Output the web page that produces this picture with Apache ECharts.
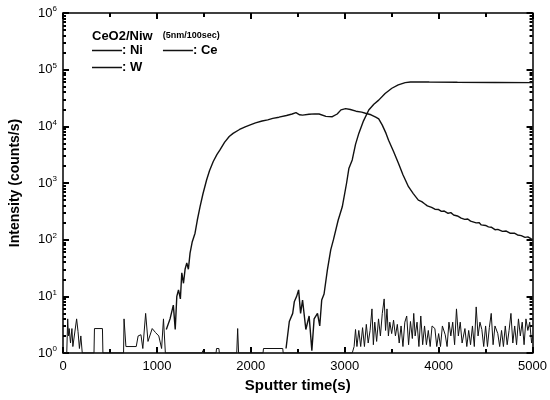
<!DOCTYPE html>
<html>
<head>
<meta charset="utf-8">
<script src="https://cdn.jsdelivr.net/npm/echarts@6/dist/echarts.min.js"></script>
<style>
  html, body { margin: 0; padding: 0; background: #fff; }
  #chart { width: 550px; height: 400px; }
</style>
</head>
<body>
<div id="chart"></div>
<script>
// sputter depth profile, [time (s), counts/s]
const ceData = [
  [1100, 2.6], [1140, 4], [1175, 7], [1195, 2.6], [1212, 10], [1230, 13], [1250, 9],
  [1265, 26], [1283, 17], [1300, 30], [1318, 39], [1335, 30], [1353, 58], [1375, 90],
  [1406, 130], [1430, 220], [1459, 380], [1490, 640], [1529, 1130], [1560, 1650],
  [1600, 2400], [1640, 3200], [1670, 3800], [1720, 5200], [1770, 6600], [1811, 7500],
  [1880, 8800], [1940, 9800], [1987, 10500], [2050, 11500], [2120, 12400], [2180, 13000],
  [2234, 13800], [2300, 14500], [2380, 15500], [2440, 16500], [2481, 17400], [2520, 16000],
  [2551, 15800], [2620, 16300], [2680, 16600], [2727, 16500], [2800, 15000], [2868, 14800],
  [2920, 16500], [2960, 19500], [3010, 20500], [3060, 19800], [3120, 18500], [3180, 17800],
  [3221, 17000], [3280, 16000], [3330, 14500], [3362, 13500], [3400, 10500], [3440, 7500],
  [3467, 5700], [3520, 3600], [3573, 2200], [3620, 1400], [3679, 860], [3730, 650],
  [3784, 500], [3820, 470], [3850, 430], [3880, 395], [3925, 370], [3960, 345], [4000, 340],
  [4030, 315], [4060, 320], [4101, 292], [4130, 300], [4160, 272], [4200, 262], [4240, 240],
  [4278, 228], [4310, 232], [4340, 212], [4400, 198], [4430, 200], [4454, 182], [4500, 178],
  [4530, 168], [4560, 166], [4600, 150], [4630, 152], [4680, 140], [4720, 142], [4760, 130],
  [4806, 130], [4840, 121], [4880, 118], [4920, 110], [4950, 112], [4982, 104], [5000, 100]
];
const niData = [
  [2375, 1.2], [2410, 3.6], [2446, 5], [2463, 8], [2488, 10], [2509, 13], [2530, 5],
  [2551, 8.6], [2565, 8], [2586, 2.6], [2600, 2.6], [2621, 4.5], [2650, 1.1], [2674, 4],
  [2710, 5], [2734, 3], [2755, 8.6], [2780, 11], [2815, 29], [2851, 66], [2880, 100],
  [2930, 220], [2974, 380], [3020, 1000], [3044, 1800], [3080, 2550], [3115, 4800],
  [3150, 7500], [3200, 12500], [3256, 19400], [3310, 24500], [3362, 29000], [3430, 38000],
  [3502, 47000], [3570, 54000], [3644, 59000], [3700, 60500], [3784, 61000], [3900, 60500],
  [4200, 60000], [4600, 59500], [5000, 59000]
];
const wData = [
  [0, 1], [40, 1], [50, 4], [58, 2], [66, 2.7], [80, 1.5], [95, 2.7], [105, 1.3], [120, 1.3],
  [145, 4], [160, 2.4], [175, 1.2], [190, 2], [205, 1], [330, 1], [335, 2.7], [420, 2.7],
  [425, 1], [645, 1], [650, 4], [670, 1.3], [780, 1.3], [800, 2], [830, 2.1], [850, 1.2],
  [880, 5], [905, 1.6], [950, 2.7], [985, 2.3], [1020, 2], [1050, 1.2], [1070, 4], [1090, 1],
  [1480, 1], [1490, 1.1], [1500, 1], [1630, 1], [1635, 1.2], [1660, 1.2], [1665, 1],
  [1850, 1], [1860, 2.7], [1870, 1], [2130, 1], [2135, 1.2], [2340, 1.2], [2345, 1],
  [3080, 1], [3100, 1.3], [3115, 2.6], [3130, 1.3], [3150, 2.5], [3170, 1.3], [3190, 2.8],
  [3210, 1.3], [3230, 3.2], [3250, 1.5], [3270, 2.5], [3290, 6], [3305, 1.4], [3320, 3.5],
  [3340, 1.6], [3360, 4], [3380, 2], [3400, 5], [3420, 9], [3435, 2.5], [3450, 6], [3465, 2],
  [3480, 3.5], [3500, 2.2], [3520, 3.8], [3540, 2], [3560, 3.2], [3580, 1.5], [3600, 3],
  [3620, 1.3], [3640, 3.5], [3660, 4.5], [3680, 1.4], [3700, 3.6], [3720, 1.8], [3735, 5],
  [3750, 2], [3770, 3.5], [3790, 1.3], [3810, 4.5], [3830, 1.4], [3850, 3], [3870, 1.4],
  [3890, 2.5], [3910, 1.3], [3930, 3], [3960, 2.7], [3980, 1.3], [4000, 2.2], [4020, 1.3],
  [4040, 3], [4070, 2.1], [4090, 1.3], [4110, 3.5], [4130, 2], [4150, 3.5], [4170, 1.4],
  [4190, 6], [4210, 2], [4230, 3.5], [4250, 1.5], [4280, 2.7], [4300, 1.3], [4320, 2.5],
  [4340, 1.4], [4360, 3], [4380, 1.3], [4400, 6.5], [4420, 2], [4440, 3.5], [4460, 2.6],
  [4480, 1.3], [4500, 3], [4520, 1.3], [4540, 2.8], [4560, 5], [4580, 1.4], [4600, 3],
  [4630, 2.2], [4650, 1.3], [4670, 2.5], [4690, 1.3], [4710, 3], [4730, 1.4], [4750, 2.5],
  [4770, 5], [4790, 1.5], [4810, 3], [4830, 1.4], [4850, 4], [4870, 2], [4890, 3.5],
  [4910, 1.4], [4930, 4], [4950, 2.5], [4970, 3.5], [4990, 1.5], [5000, 2]
];

const font = 'Liberation Sans, Arial, sans-serif';
const chart = echarts.init(document.getElementById('chart'));

function xAx(pos, labels) {
  return {
    type: 'value', min: 0, max: 5000, interval: 1000, position: pos,
    name: labels ? 'Sputter time(s)' : '', nameLocation: 'middle', nameGap: 23,
    nameTextStyle: { fontFamily: font, fontWeight: 'bold', fontSize: 15, color: '#000' },
    axisLine: { show: true, onZero: false, lineStyle: { color: '#000', width: 1.5 } },
    axisTick: { show: true, inside: true, length: 6, lineStyle: { color: '#000', width: 2 } },
    minorTick: { show: true, splitNumber: 2, length: 4, lineStyle: { color: '#000', width: 2 } },
    axisLabel: { show: labels, fontFamily: font, fontSize: 13, color: '#000', margin: 7,
      formatter: function (v) { return String(v); } },
    splitLine: { show: false }
  };
}

function yAx(pos, labels) {
  return {
    type: 'log', logBase: 10, min: 1, max: 1e6, position: pos,
    name: labels ? 'Intensity (counts/s)' : '', nameLocation: 'middle', nameGap: 41,
    nameTextStyle: { fontFamily: font, fontWeight: 'bold', fontSize: 14, color: '#000' },
    axisLine: { show: true, onZero: false, lineStyle: { color: '#000', width: 1.5 } },
    axisTick: { show: true, inside: true, length: 6, lineStyle: { color: '#000', width: 2 } },
    minorTick: { show: true, splitNumber: 9, length: 3, lineStyle: { color: '#000', width: 2 } },
    axisLabel: {
      show: labels,
      margin: 6,
      formatter: function (v) {
        return '{b|10}{s|' + Math.round(Math.log10(v)) + '}';
      },
      rich: {
        b: { fontFamily: font, fontSize: 13, color: '#000', lineHeight: 16 },
        s: { fontFamily: font, fontSize: 8, color: '#000', verticalAlign: 'top', lineHeight: 10 }
      }
    },
    splitLine: { show: false }
  };
}

chart.setOption({
  animation: false,
  backgroundColor: '#fff',
  grid: { left: 62, right: 15, top: 13, bottom: 47 },
  title: {
    left: 92,
    top: 27,
    padding: 0,
    text: '{a|CeO2/Niw}  {b|(5nm/100sec)}',
    textStyle: {
      rich: {
        a: { fontFamily: font, fontWeight: 'bold', fontSize: 13, color: '#000' },
        b: { fontFamily: font, fontWeight: 'bold', fontSize: 9, color: '#000' }
      }
    }
  },
  legend: [
    {
      data: ['Ni', 'Ce'],
      left: 92, top: 44, padding: 0,
      icon: 'rect', itemWidth: 30, itemHeight: 1.5, itemGap: 20,
      formatter: ': {name}',
      textStyle: { fontFamily: font, fontWeight: 'bold', fontSize: 13, color: '#000', padding: [0, 0, 0, -5] }
    },
    {
      data: ['W'],
      left: 92, top: 61, padding: 0,
      icon: 'rect', itemWidth: 30, itemHeight: 1.5,
      formatter: ': {name}',
      textStyle: { fontFamily: font, fontWeight: 'bold', fontSize: 13, color: '#000', padding: [0, 0, 0, -5] }
    }
  ],
  xAxis: [xAx('bottom', true), xAx('top', false)],
  yAxis: [yAx('left', true), yAx('right', false)],
  series: [
    {
      name: 'Ni', type: 'line', data: niData, showSymbol: false,
      lineStyle: { color: '#111', width: 1.4 }, itemStyle: { color: '#111' }
    },
    {
      name: 'Ce', type: 'line', data: ceData, showSymbol: false,
      lineStyle: { color: '#111', width: 1.4 }, itemStyle: { color: '#111' }
    },
    {
      name: 'W', type: 'line', data: wData, showSymbol: false,
      lineStyle: { color: '#111', width: 1 }, itemStyle: { color: '#111' }
    }
  ]
});
</script>
</body>
</html>
